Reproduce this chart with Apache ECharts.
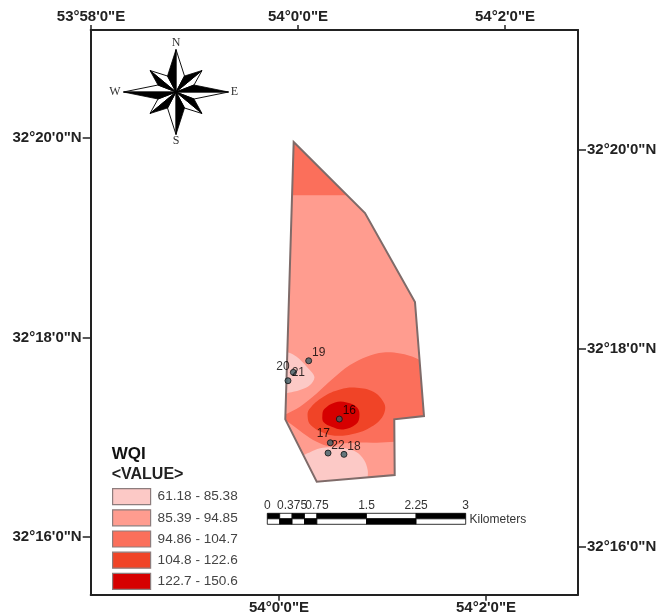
<!DOCTYPE html>
<html>
<head>
<meta charset="utf-8">
<style>html,body{margin:0;padding:0;background:#fff}#c{width:656px;height:615px}</style>
<script src="https://cdn.jsdelivr.net/npm/echarts@6/dist/echarts.min.js"></script>
</head>
<body>
<div id="c"></div>
<script>
// Coordinates: [minutes east of 54 deg, minutes north of 32 deg]
const boundary = [[-0.042,19.960],[0.647,19.248],[1.130,18.356],[1.217,17.213],[0.930,17.180],[0.934,16.622],[0.181,16.554],[-0.123,17.180]];

const classNames = ['61.18 - 85.38','85.39 - 94.85','94.86 - 104.7','104.8 - 122.6','122.7 - 150.6'];
const classColors = ['#fcc9c6','#ff9c8f','#fb6f5b','#f04427','#d60000'];

const class1West = [[-0.174,17.865],[-0.093,17.851],[-0.013,17.808],[0.084,17.708],[0.158,17.607],[0.116,17.524],[0.019,17.474],[-0.093,17.447],[-0.174,17.440]];
const class1South = [[0.052,16.806],[0.116,16.849],[0.213,16.889],[0.325,16.899],[0.454,16.889],[0.567,16.849],[0.638,16.772],[0.673,16.672],[0.673,16.588],[0.673,16.454],[0.052,16.454]];
const class3North = [[-0.174,19.426],[0.696,19.426],[0.696,20.080],[-0.174,20.080]];
const class3Middle = [[-0.158,17.196],[0.019,17.307],[0.180,17.440],[0.341,17.591],[0.502,17.724],[0.663,17.808],[0.824,17.851],[0.986,17.841],[1.147,17.791],[1.275,17.691],[1.372,17.490],[1.372,16.956],[0.937,16.956],[0.760,16.946],[0.567,16.946],[0.406,16.936],[0.309,16.909],[0.180,16.956],[0.052,17.039],[-0.093,17.150]];
const class4 = [[0.093,17.206],[0.110,17.283],[0.245,17.407],[0.406,17.480],[0.567,17.497],[0.728,17.457],[0.824,17.357],[0.841,17.273],[0.792,17.173],[0.680,17.089],[0.551,17.039],[0.390,17.016],[0.261,17.039],[0.122,17.123]];
const class5 = [[0.235,17.216],[0.254,17.283],[0.357,17.350],[0.470,17.350],[0.573,17.297],[0.593,17.206],[0.560,17.130],[0.438,17.079],[0.325,17.106],[0.248,17.150]];

const wellNames = ['16','17','18','19','20','21','22'];
const wellLon = [0.399,0.312,0.444,0.103,-0.097,-0.045,0.290];
const wellLat = [17.183,16.945,16.829,17.767,17.567,17.651,16.842];

const lonTicks = [-2,0,2];
const lonTicksBottom = [0,2];
const latTicks = [16,18,20];

const scaleStops = [0,0.1875,0.375,0.5625,0.75,1.5,2.25,3];
const scaleLabels = [0,0.375,0.75,1.5,2.25,3];

// layout / style
const wellLabelOffsets = {'16':[10,-8],'17':[-7,-9],'18':[10,-8],'19':[10,-8],'20':[-5,-14],'21':[5,0],'22':[10,-7]};
const tickFont = {fontFamily:'Liberation Sans',fontWeight:'bold',fontSize:15,color:'#222'};
const frameLine = {show:true,onZero:false,lineStyle:{color:'#222',width:2}};
const tickStyle = (len,values)=>({show:true,length:len,customValues:values,lineStyle:{color:'#222',width:1.5}});

function fmtLon(v){return v<0?`53°${60+v}'0"E`:`54°${v}'0"E`;}
function fmtLat(v){return `32°${v}'0"N`;}

function regionSeries(name,color,polys,smooth){
  return {
    type:'custom',name,coordinateSystem:'cartesian2d',xAxisIndex:0,yAxisIndex:0,silent:true,
    itemStyle:{color},
    data:polys.map(p=>p[0]),
    renderItem(params,api){
      const pts=polys[params.dataIndex].map(p=>api.coord(p));
      return {type:'polygon',shape:{points:pts,smooth:smooth},style:{fill:color},
        clipPath:{type:'polygon',shape:{points:boundary.map(p=>api.coord(p))}}};
    }
  };
}

// compass rose
const cx=176,cy=92;
const roseTips=[[0,-42.5],[26,-21.5],[52.5,0],[26,21.5],[0,42.5],[-26,21.5],[-52.5,0],[-26,-21.5]];
const roseNotches=[[8.5,-16],[18,-7],[18,7],[8.5,16],[-8.5,16],[-18,7],[-18,-7],[-8.5,-16]];
const roseGraphics=[];
roseTips.forEach((t,i)=>{
  const cw=roseNotches[i], ccw=roseNotches[(i+7)%8];
  const P=a=>[cx+a[0],cy+a[1]];
  roseGraphics.push({type:'polygon',shape:{points:[P([0,0]),P(t),P(cw)]},style:{fill:'#fff',stroke:'#111',lineWidth:1},z:20});
  roseGraphics.push({type:'polygon',shape:{points:[P([0,0]),P(t),P(ccw)]},style:{fill:'#000',stroke:'#000',lineWidth:0.8},z:21});
});
[['N',176,42.5],['S',176,141],['W',115,92],['E',234.5,92]].forEach(a=>{
  roseGraphics.push({type:'text',x:a[1],y:a[2],z:22,style:{text:a[0],fontFamily:'Liberation Serif',fontSize:12,fill:'#333',align:'center',verticalAlign:'middle'}});
});

const option={
  animation:false,
  backgroundColor:'#fff',
  grid:[
    {left:90.7,top:30,width:487.3,height:564.7,outerBoundsMode:'none'},
    {left:267.3,top:513.3,width:198.4,height:11,outerBoundsMode:'none'}
  ],
  xAxis:[
    {type:'value',gridIndex:0,position:'top',min:-2.003,max:2.705,splitLine:{show:false},axisLine:frameLine,
     axisTick:tickStyle(5,lonTicks),axisLabel:{...tickFont,customValues:lonTicks,margin:6,formatter:fmtLon,hideOverlap:false}},
    {type:'value',gridIndex:0,position:'bottom',min:-1.819,max:2.889,splitLine:{show:false},axisLine:frameLine,
     axisTick:tickStyle(6,lonTicksBottom),axisLabel:{...tickFont,customValues:lonTicksBottom,margin:6,formatter:fmtLon}},
    {type:'value',gridIndex:1,position:'top',min:0,max:3,splitLine:{show:false},axisLine:{show:false},axisTick:{show:false},
     axisLabel:{customValues:scaleLabels,margin:2,fontFamily:'Liberation Sans',fontSize:12,color:'#333',formatter:v=>String(v),hideOverlap:false,showMinLabel:true,showMaxLabel:true}}
  ],
  yAxis:[
    {type:'value',gridIndex:0,position:'left',min:15.422,max:21.083,splitLine:{show:false},axisLine:frameLine,
     axisTick:tickStyle(8,latTicks),axisLabel:{...tickFont,customValues:latTicks,margin:9,formatter:fmtLat}},
    {type:'value',gridIndex:0,position:'right',min:15.519,max:21.209,splitLine:{show:false},axisLine:frameLine,
     axisTick:tickStyle(8,latTicks),axisLabel:{...tickFont,customValues:latTicks,margin:9,formatter:fmtLat}},
    {type:'value',gridIndex:1,min:0,max:2,show:false}
  ],
  legend:{
    show:true,orient:'vertical',left:112,top:488,padding:0,itemWidth:38,itemHeight:16,itemGap:4,icon:'rect',
    data:classNames,selectedMode:false,
    itemStyle:{borderColor:'#8d7d7d',borderWidth:1.2},
    textStyle:{fontFamily:'Liberation Sans',fontSize:13.6,lineHeight:16,color:'#444',padding:[0,0,0,2]}
  },
  graphic:[
    {type:'text',x:111.7,y:454,style:{text:'WQI',fontFamily:'Liberation Sans',fontWeight:'bold',fontSize:17,fill:'#111',verticalAlign:'middle'}},
    {type:'text',x:111.7,y:475,style:{text:'<VALUE>',fontFamily:'Liberation Sans',fontWeight:'bold',fontSize:16,fill:'#222',verticalAlign:'middle'}},
    {type:'text',x:469.5,y:520,style:{text:'Kilometers',fontFamily:'Liberation Sans',fontSize:12,fill:'#333',verticalAlign:'middle'}},
    ...roseGraphics
  ],
  series:[
    // base fill: the middle class covers the whole study area
    regionSeries(classNames[1],classColors[1],[boundary],0),
    regionSeries(classNames[0],classColors[0],[class1West,class1South],0.35),
    regionSeries(classNames[2],classColors[2],[class3North],0),
    regionSeries(classNames[2],classColors[2],[class3Middle],0.35),
    regionSeries(classNames[3],classColors[3],[class4],0.4),
    regionSeries(classNames[4],classColors[4],[class5],0.4),
    {
      type:'custom',name:'boundary',coordinateSystem:'cartesian2d',xAxisIndex:0,yAxisIndex:0,silent:true,
      data:[boundary[0]],
      renderItem(params,api){
        return {type:'polygon',shape:{points:boundary.map(p=>api.coord(p))},style:{fill:'none',stroke:'#7f6b69',lineWidth:2}};
      }
    },
    {
      type:'scatter',name:'wells',xAxisIndex:0,yAxisIndex:0,silent:true,symbolSize:6,
      itemStyle:{color:'#3f6068',borderColor:'#111',borderWidth:1},
      data:wellNames.map((n,i)=>({name:n,value:[wellLon[i],wellLat[i]],
        label:{show:true,position:'inside',offset:wellLabelOffsets[n],formatter:n,fontFamily:'Liberation Sans',fontSize:12,color:'#000'}}))
    },
    {
      type:'custom',name:'scale',coordinateSystem:'cartesian2d',xAxisIndex:2,yAxisIndex:2,silent:true,
      data:scaleStops.slice(0,-1).flatMap((s,i)=>[[s,scaleStops[i+1],1,i%2],[s,scaleStops[i+1],0,(i+1)%2]]),
      renderItem(params,api){
        const a=api.coord([api.value(0),api.value(2)+1]), b=api.coord([api.value(1),api.value(2)]);
        return {type:'rect',shape:{x:a[0],y:a[1],width:b[0]-a[0],height:b[1]-a[1]},
          style:{fill:api.value(3)?'#fff':'#000',stroke:'#000',lineWidth:0.8}};
      }
    }
  ]
};
const chart=echarts.init(document.getElementById('c'),null,{renderer:'canvas'});
chart.setOption(option);
</script>
</body>
</html>
